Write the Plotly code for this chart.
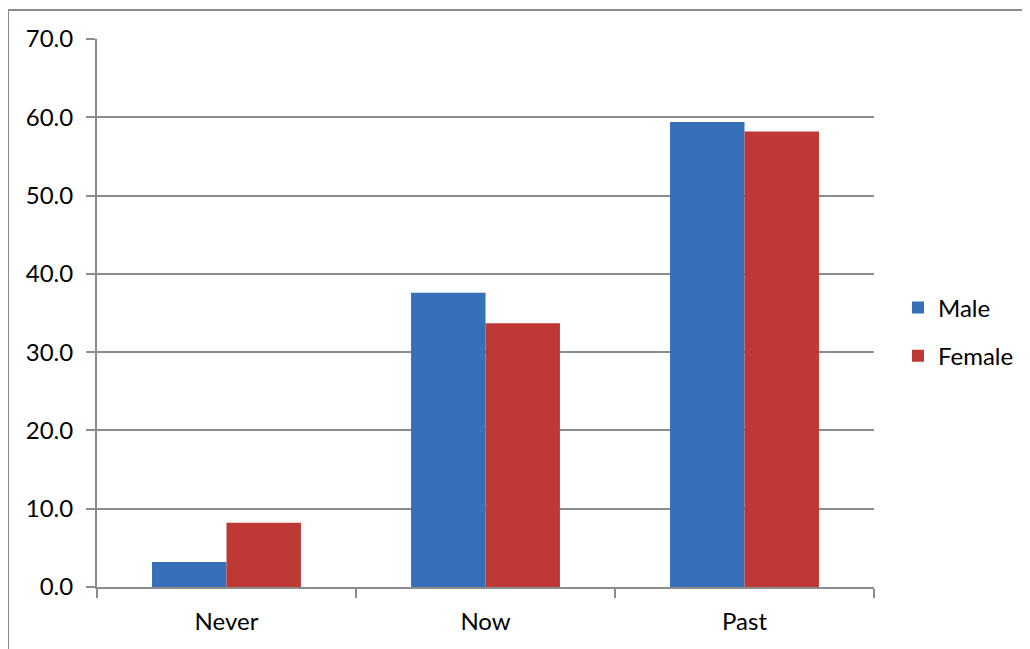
import plotly.graph_objects as go

categories = ["Never", "Now", "Past"]
male = [3.2, 37.6, 59.4]
female = [8.2, 33.7, 58.2]
y_ticks = [0, 10, 20, 30, 40, 50, 60, 70]

# page body has an 8px margin, so work in shifted coordinates
OFF = 8
W, H = 1030 - OFF, 649 - OFF
L, R, T, B = 97 - OFF, 874 - OFF, 39 - OFF, 587 - OFF
pw, ph = R - L, B - T

fig = go.Figure()
fig.add_trace(go.Bar(name="Male", x=categories, y=male, marker=dict(color="#3670b9", line=dict(width=0)),
                     legendgroup="m"))
fig.add_trace(go.Bar(name="Female", x=categories, y=female, marker=dict(color="#be3935", line=dict(width=0)),
                     legendgroup="f"))

font = "Lato, 'Open Sans', sans-serif"
fig.update_layout(
    width=W, height=H,
    margin=dict(l=L, r=W - R, t=T, b=H - B, pad=0, autoexpand=False),
    paper_bgcolor="white", plot_bgcolor="white",
    barmode="group", bargap=0.425, bargroupgap=0,
    font=dict(family=font, size=24, color="black"),
    legend=dict(x=(898 - 97) / pw, xanchor="left", y=(587 - 332) / ph, yanchor="middle",
                traceorder="grouped", tracegroupgap=14, font=dict(size=24),
                itemwidth=30, bgcolor="rgba(0,0,0,0)"),
    xaxis=dict(showgrid=False, showline=True, linecolor="#8c8c8c", linewidth=2,
               ticks="outside", tickson="boundaries", ticklen=9, tickcolor="#8c8c8c", tickwidth=2,
               tickfont=dict(size=24), ticklabelstandoff=12),
    yaxis=dict(range=[0, 70], tickvals=y_ticks, tickformat=".1f", showgrid=True,
               gridcolor="#8c8c8c", gridwidth=1.5, showline=True, linecolor="#8c8c8c", linewidth=2,
               ticks="outside", ticklen=9, tickcolor="#8c8c8c", tickwidth=2, zeroline=False,
               tickfont=dict(size=24), ticklabelstandoff=8),
    shapes=[dict(type="rect", xref="paper", yref="paper",
                 x0=(8 - 97) / pw, x1=(1080 - 97) / pw, y0=(587 - 700) / ph, y1=(587 - 10) / ph,
                 line=dict(color="#8c8c8c", width=2), fillcolor="rgba(0,0,0,0)", layer="above")],
)
fig.write_html("out.html")
